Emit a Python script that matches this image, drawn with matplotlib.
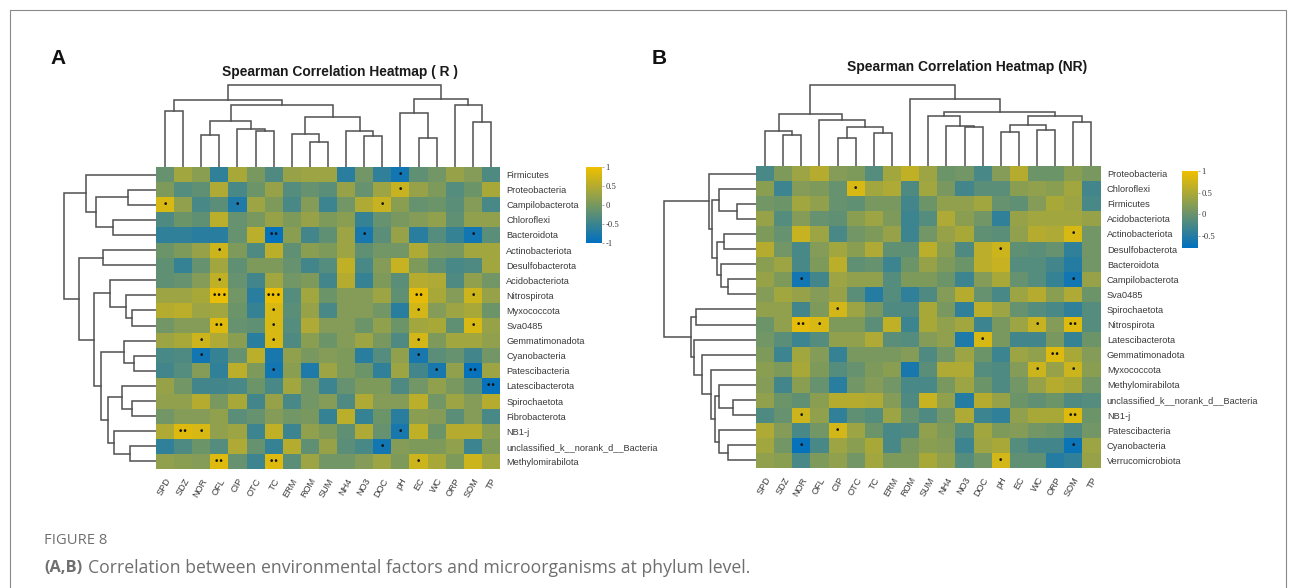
"""Two clustered Spearman heatmaps (R and NR) with dendrograms and a caption."""

import matplotlib
matplotlib.use("Agg")
import matplotlib.pyplot as plt
import numpy as np
from matplotlib.colors import LinearSegmentedColormap
from matplotlib.transforms import ScaledTranslation

factors_a = ["SPD", "SDZ", "NOR", "OFL", "CIP", "OTC", "TC", "ERM", "ROM", "SUM",
             "NH4", "NO3", "DOC", "pH", "EC", "WC", "ORP", "SOM", "TP"]
factors_b = list(factors_a)

taxa_a = ["Firmicutes", "Proteobacteria", "Campilobacterota", "Chloroflexi",
          "Bacteroidota", "Actinobacteriota", "Desulfobacterota", "Acidobacteriota",
          "Nitrospirota", "Myxococcota", "Sva0485", "Gemmatimonadota", "Cyanobacteria",
          "Patescibacteria", "Latescibacterota", "Spirochaetota", "Fibrobacterota",
          "NB1-j", "unclassified_k__norank_d__Bacteria", "Methylomirabilota"]
taxa_b = ["Proteobacteria", "Chloroflexi", "Firmicutes", "Acidobacteriota",
          "Actinobacteriota", "Desulfobacterota", "Bacteroidota", "Campilobacterota",
          "Sva0485", "Spirochaetota", "Nitrospirota", "Latescibacterota",
          "Gemmatimonadota", "Myxococcota", "Methylomirabilota",
          "unclassified_k__norank_d__Bacteria", "NB1-j", "Patescibacteria",
          "Cyanobacteria", "Verrucomicrobiota"]

values_a = [
    [-0.15, 0.35, 0.15, -0.60, 0.40, 0.00, -0.35, 0.25, 0.30, 0.30, -0.65, -0.05, -0.60, -0.85, -0.20, -0.05, 0.25, 0.10, -0.35],
    [0.05, -0.30, -0.20, 0.45, -0.40, -0.10, 0.25, -0.30, -0.15, -0.25, 0.25, -0.15, 0.30, 0.65, 0.25, 0.05, -0.30, -0.10, 0.40],
    [0.80, 0.20, -0.40, -0.25, -0.75, 0.30, 0.05, -0.40, 0.10, -0.50, -0.05, 0.45, 0.65, 0.15, -0.15, -0.10, -0.25, 0.10, -0.40],
    [-0.35, -0.10, -0.20, 0.55, -0.15, 0.00, 0.25, 0.05, 0.25, 0.05, 0.15, -0.55, -0.15, 0.00, 0.10, 0.20, -0.20, 0.20, 0.20],
    [-0.60, -0.60, -0.65, -0.65, -0.15, 0.55, -0.95, 0.15, -0.45, -0.20, 0.30, -0.80, -0.25, 0.25, -0.65, -0.30, -0.55, -0.85, -0.25],
    [-0.10, 0.05, 0.25, 0.70, 0.05, -0.35, 0.55, -0.20, 0.15, 0.05, 0.30, -0.20, -0.05, -0.05, 0.45, 0.05, 0.00, 0.35, 0.35],
    [-0.20, -0.55, -0.15, 0.35, -0.20, 0.05, 0.05, -0.15, -0.45, -0.30, 0.60, -0.40, 0.10, 0.65, 0.05, -0.20, -0.40, -0.35, 0.35],
    [-0.20, -0.15, 0.10, 0.60, -0.15, -0.45, 0.35, -0.05, 0.05, -0.45, 0.50, -0.55, 0.05, -0.25, 0.50, 0.45, -0.35, 0.20, -0.05],
    [0.30, 0.30, 0.40, 0.95, -0.05, -0.65, 0.95, -0.30, 0.35, -0.10, 0.10, 0.10, 0.30, -0.20, 0.90, 0.40, 0.10, 0.70, 0.25],
    [0.50, 0.55, 0.30, 0.35, -0.10, -0.55, 0.80, -0.25, 0.25, -0.40, 0.10, 0.10, -0.05, -0.65, 0.75, 0.10, 0.30, 0.40, -0.10],
    [-0.05, 0.10, 0.10, 0.85, -0.15, -0.20, 0.80, -0.30, 0.45, 0.10, 0.10, -0.10, 0.20, -0.10, 0.35, 0.40, -0.20, 0.80, 0.25],
    [0.30, 0.40, 0.70, 0.45, 0.15, -0.65, 0.80, -0.35, 0.15, -0.10, 0.10, 0.30, 0.00, -0.35, 0.75, 0.05, 0.35, 0.35, 0.20],
    [-0.40, -0.35, -0.85, -0.55, -0.15, 0.55, -0.80, 0.20, 0.00, 0.10, 0.05, -0.65, -0.30, 0.20, -0.80, -0.25, -0.15, -0.45, -0.05],
    [-0.45, -0.30, 0.10, -0.60, 0.55, 0.05, -0.85, 0.15, -0.75, 0.30, 0.05, -0.10, -0.60, 0.30, -0.45, -0.80, 0.20, -0.95, 0.30],
    [0.25, -0.05, -0.45, -0.45, -0.40, -0.10, -0.40, 0.35, -0.05, -0.50, -0.15, 0.05, 0.05, -0.35, -0.05, 0.20, 0.00, -0.25, -0.95],
    [0.20, 0.20, 0.50, 0.00, 0.40, -0.45, 0.25, -0.40, -0.05, 0.10, -0.35, 0.45, 0.10, 0.10, 0.55, -0.05, 0.30, 0.10, 0.50],
    [-0.05, 0.10, 0.10, 0.20, -0.25, -0.15, 0.10, -0.05, 0.00, -0.55, 0.55, -0.55, -0.10, -0.65, 0.15, 0.10, -0.25, 0.10, -0.40],
    [0.45, 0.85, 0.80, 0.20, 0.30, -0.50, 0.60, -0.50, 0.20, 0.05, -0.20, 0.45, -0.15, -0.80, 0.60, -0.10, 0.50, 0.50, 0.15],
    [-0.60, -0.35, -0.10, -0.30, 0.45, -0.15, -0.55, 0.50, -0.20, 0.25, -0.25, -0.40, -0.85, 0.10, 0.05, 0.05, 0.20, -0.50, 0.05],
    [0.20, 0.15, 0.10, 0.85, -0.15, -0.50, 0.85, -0.25, 0.30, -0.05, -0.05, 0.10, 0.30, 0.05, 0.70, 0.40, 0.05, 0.70, 0.35],
]
values_b = [
    [-0.40, 0.05, 0.30, 0.50, 0.10, 0.05, -0.30, 0.35, 0.60, 0.30, -0.10, -0.05, -0.40, 0.10, 0.50, -0.10, -0.10, 0.15, 0.00],
    [0.15, -0.50, 0.10, 0.05, -0.15, 0.80, 0.35, 0.45, -0.35, 0.35, 0.00, -0.45, -0.25, -0.25, 0.15, 0.20, 0.15, 0.35, -0.45],
    [-0.05, -0.10, 0.35, 0.20, -0.15, -0.20, 0.00, 0.00, -0.45, -0.10, 0.20, 0.20, 0.35, -0.15, -0.20, 0.10, 0.40, 0.30, -0.40],
    [0.25, -0.30, 0.10, -0.15, -0.20, 0.15, 0.30, 0.05, -0.50, -0.30, 0.45, 0.15, -0.05, -0.60, 0.25, 0.35, 0.35, 0.35, 0.25],
    [0.05, -0.15, 0.65, 0.30, -0.40, -0.05, 0.05, 0.25, -0.50, -0.05, 0.25, 0.40, -0.20, -0.25, 0.20, 0.50, 0.45, 0.80, -0.05],
    [0.50, -0.05, -0.40, 0.10, 0.35, 0.15, 0.45, -0.20, -0.20, 0.55, 0.15, -0.35, 0.55, 0.70, -0.20, -0.25, -0.15, -0.60, -0.05],
    [0.15, 0.30, -0.40, 0.05, 0.55, -0.20, -0.15, -0.50, -0.10, 0.25, 0.05, -0.10, 0.55, 0.65, -0.30, -0.30, -0.45, -0.70, -0.05],
    [0.25, 0.05, -0.85, -0.45, 0.30, 0.20, 0.20, -0.30, 0.05, 0.05, -0.10, -0.50, 0.10, 0.40, -0.15, -0.30, -0.55, -0.85, 0.25],
    [0.10, 0.35, 0.25, 0.10, 0.25, -0.25, -0.70, -0.30, -0.60, -0.35, 0.10, 0.50, -0.15, -0.40, 0.30, 0.50, 0.15, 0.45, -0.10],
    [0.20, 0.20, -0.45, 0.05, 0.75, 0.30, 0.00, -0.35, -0.35, 0.40, 0.00, -0.60, 0.55, 0.30, -0.15, -0.30, -0.40, -0.60, -0.30],
    [-0.10, 0.20, 0.90, 0.80, 0.05, 0.05, -0.25, 0.60, -0.50, 0.40, 0.20, 0.35, -0.50, 0.00, 0.30, 0.65, 0.10, 0.85, -0.30],
    [-0.05, -0.25, -0.50, -0.30, 0.20, 0.20, 0.45, -0.25, -0.30, 0.10, 0.20, -0.75, 0.80, 0.00, -0.45, -0.45, 0.00, -0.55, -0.10],
    [0.05, -0.50, 0.35, 0.10, -0.55, 0.00, 0.00, 0.00, 0.10, -0.35, -0.05, 0.30, -0.10, -0.50, 0.30, 0.20, 0.85, 0.40, 0.10],
    [0.15, 0.05, 0.40, 0.05, -0.30, -0.15, 0.05, 0.15, -0.80, -0.25, 0.45, 0.45, -0.30, -0.35, 0.10, 0.70, 0.25, 0.70, 0.15],
    [0.10, -0.45, 0.15, -0.15, -0.65, -0.05, 0.10, -0.05, -0.40, -0.40, 0.00, 0.30, -0.10, -0.35, -0.05, 0.25, 0.50, 0.40, -0.05],
    [0.20, -0.10, -0.20, 0.15, 0.50, 0.50, 0.45, 0.10, -0.35, 0.65, 0.20, -0.70, 0.50, 0.25, -0.10, -0.20, -0.10, -0.35, -0.30],
    [-0.35, -0.15, 0.70, 0.20, -0.60, -0.20, -0.30, 0.30, -0.15, -0.35, -0.05, 0.45, -0.50, -0.60, 0.20, 0.40, 0.40, 0.85, -0.10],
    [0.45, 0.10, -0.40, -0.05, 0.75, 0.30, -0.10, -0.40, -0.35, 0.20, 0.05, -0.30, 0.35, 0.05, 0.10, -0.05, -0.10, -0.35, -0.05],
    [0.35, -0.05, -0.95, -0.40, 0.30, 0.15, 0.40, -0.40, 0.00, 0.15, 0.10, -0.50, 0.30, 0.40, -0.30, -0.45, -0.45, -0.90, 0.30],
    [0.20, 0.15, -0.40, 0.05, 0.20, -0.05, 0.35, 0.05, 0.05, 0.40, 0.20, -0.30, -0.05, 0.75, -0.20, -0.20, -0.70, -0.60, 0.25],
]

# (taxon, factor, number of stars)
sig_a = [("Firmicutes", "pH", 1), ("Proteobacteria", "pH", 1), ("Campilobacterota", "SPD", 1),
         ("Campilobacterota", "CIP", 1), ("Campilobacterota", "DOC", 1), ("Bacteroidota", "TC", 2),
         ("Bacteroidota", "NO3", 1), ("Bacteroidota", "SOM", 1), ("Actinobacteriota", "OFL", 1),
         ("Acidobacteriota", "OFL", 1), ("Nitrospirota", "OFL", 3), ("Nitrospirota", "TC", 3),
         ("Nitrospirota", "EC", 2), ("Nitrospirota", "SOM", 1), ("Myxococcota", "TC", 1),
         ("Myxococcota", "EC", 1), ("Sva0485", "OFL", 2), ("Sva0485", "TC", 1), ("Sva0485", "SOM", 1),
         ("Gemmatimonadota", "NOR", 1), ("Gemmatimonadota", "TC", 1), ("Gemmatimonadota", "EC", 1),
         ("Cyanobacteria", "NOR", 1), ("Cyanobacteria", "EC", 1), ("Patescibacteria", "TC", 1),
         ("Patescibacteria", "WC", 1), ("Patescibacteria", "SOM", 2), ("Latescibacterota", "TP", 2),
         ("NB1-j", "SDZ", 2), ("NB1-j", "NOR", 1), ("NB1-j", "pH", 1),
         ("unclassified_k__norank_d__Bacteria", "DOC", 1), ("Methylomirabilota", "OFL", 2),
         ("Methylomirabilota", "TC", 2), ("Methylomirabilota", "EC", 1)]
sig_b = [("Chloroflexi", "OTC", 1), ("Actinobacteriota", "SOM", 1), ("Desulfobacterota", "pH", 1),
         ("Campilobacterota", "NOR", 1), ("Campilobacterota", "SOM", 1), ("Spirochaetota", "CIP", 1),
         ("Nitrospirota", "NOR", 2), ("Nitrospirota", "OFL", 1), ("Nitrospirota", "WC", 1),
         ("Nitrospirota", "SOM", 2), ("Latescibacterota", "DOC", 1), ("Gemmatimonadota", "ORP", 2),
         ("Myxococcota", "WC", 1), ("Myxococcota", "SOM", 1), ("NB1-j", "NOR", 1), ("NB1-j", "SOM", 2),
         ("Patescibacteria", "CIP", 1), ("Cyanobacteria", "NOR", 1), ("Cyanobacteria", "SOM", 1),
         ("Verrucomicrobiota", "pH", 1)]

# dendrograms as nested (height, left, right), an int is a leaf position
col_tree_a = (82, (67, (56, 0, 1),
                   (62, (46, (32, 2, 3), (38, 4, (36, 5, 6))),
                    (50, (33, 7, (25, 8, 9)), (36, 10, (31, 11, 12))))),
              (68, (54, 13, (29, 14, 15)), (62, 16, (45, 17, 18))))
row_tree_a = (92, (70, 0, (60, (28, 1, 2), (43, 3, 4))),
              (77, (53, 5, 6),
               (62, (46, 7, (30, 8, (24, 9, 10))),
                (55, (32, 11, (22, 12, 13)),
                 (48, (34, 14, (24, 15, 16)), (42, 17, (26, 18, 19)))))))
col_tree_b = (81, (52, (35, 0, (31, 1, 2)), (46, 3, (39, (28, 4, 5), (33, 6, 7)))),
              (67, 8, (54, (50, 9, (40, 10, (39, 11, 12))),
                       (50, (41, (34, 13, 14), (36, 15, 16)), (44, 17, 18)))))
row_tree_b = (92, (47, 0, (44, (37, 1, (19, 2, 3)),
                           (39, (32, 4, 5), (35, 6, (28, 7, 8))))),
              (65, (60, 9, 10),
               (62, 11, (54, 12, (45, 13, (41, (37, 14, (23, 15, 16)),
                                           (37, 17, (28, 18, 19))))))))

ticks_a = [1, 0.5, 0, -0.5, -1]
ticks_b = [1, 0.5, 0, -0.5]

W, H = 1295, 588
cmap = LinearSegmentedColormap.from_list("bluegold", ["#0070c0", "#f0c000"])
LABEL = "#3a3a3a"
SANS = "Liberation Sans"
CAPTION = "#6f6f6f"


def px_axes(fig, left, top, right, bottom):
    """Axes placed by pixel box, y counted from the top of the image."""
    return fig.add_axes([left / W, 1 - bottom / H, (right - left) / W, (bottom - top) / H])


def draw_tree(ax, node, vertical):
    """Draw one dendrogram node, returns (leaf position, height)."""
    if isinstance(node, int):
        return node + 0.5, 0
    height, left, right = node
    p0, h0 = draw_tree(ax, left, vertical)
    p1, h1 = draw_tree(ax, right, vertical)
    pos = [p0, p0, p1, p1]
    hts = [h0, height, height, h1]
    if vertical:
        ax.plot(pos, hts, color="#505050", lw=1.1, solid_joinstyle="miter")
    else:
        ax.plot(hts, pos, color="#505050", lw=1.1, solid_joinstyle="miter")
    return (p0 + p1) / 2, height


def panel(fig, box, factors, taxa, values, sig, col_tree, row_tree, cbar_box, cbar_low, ticks):
    left, top, right, bottom = box
    data = np.array(values)
    ax = px_axes(fig, left, top, right, bottom)
    ax.pcolormesh(data, cmap=cmap, vmin=-1, vmax=1, edgecolors="none")
    ax.set_xlim(0, len(factors))
    ax.set_ylim(len(taxa), 0)
    for side in ax.spines.values():
        side.set_visible(False)
    ax.set_xticks(np.arange(len(factors)) + 0.5)
    ax.set_xticklabels(factors, rotation=60, ha="right", va="top", rotation_mode="anchor",
                       fontsize=6.6, family=SANS, color=LABEL)
    # labels sit a little left of their column in the original
    nudge = ScaledTranslation(-5 / 100, 0, fig.dpi_scale_trans)
    for lab in ax.get_xticklabels():
        lab.set_transform(lab.get_transform() + nudge)
    ax.yaxis.tick_right()
    ax.set_yticks(np.arange(len(taxa)) + 0.5)
    ax.set_yticklabels(taxa, fontsize=6.7, family=SANS, color=LABEL)
    ax.tick_params(axis="x", length=0, pad=5.5)
    ax.tick_params(axis="y", length=0, pad=4.5)

    for taxon, factor, n in sig:
        ax.text(factors.index(factor) + 0.5, taxa.index(taxon) + 0.5, "\u2022" * n,
                ha="center", va="center", fontsize=6.5, color="#111111", family="DejaVu Sans")

    top_ax = px_axes(fig, left, top - 90, right, top)
    draw_tree(top_ax, col_tree, True)
    top_ax.set_xlim(0, len(factors))
    top_ax.set_ylim(0, 90)
    top_ax.axis("off")

    side_ax = px_axes(fig, left - 100, top, left, bottom)
    draw_tree(side_ax, row_tree, False)
    side_ax.set_xlim(100, 0)
    side_ax.set_ylim(len(taxa), 0)
    side_ax.axis("off")

    cax = px_axes(fig, *cbar_box)
    grad = np.linspace(1, cbar_low, 200).reshape(-1, 1)
    cax.imshow(grad, cmap=cmap, vmin=cbar_low, vmax=1, aspect="auto",
               extent=[0, 1, cbar_low, 1])
    cax.set_xticks([])
    cax.yaxis.tick_right()
    cax.set_yticks(ticks)
    cax.set_yticklabels([f"{t:g}" for t in ticks], fontsize=6.2, family="Liberation Serif",
                        color=LABEL)
    cax.tick_params(axis="y", length=1.5, width=0.5, pad=1, color="#888888")
    for side in cax.spines.values():
        side.set_visible(False)


def main():
    fig = plt.figure(figsize=(W / 100, H / 100), dpi=100, facecolor="white")

    panel(fig, (156, 167, 500, 469), factors_a, taxa_a, values_a, sig_a,
          col_tree_a, row_tree_a, (586, 167, 602, 243), -1, ticks_a)
    panel(fig, (756, 166, 1100.5, 468), factors_b, taxa_b, values_b, sig_b,
          col_tree_b, row_tree_b, (1182, 171, 1198, 248), -0.78, ticks_b)

    # page level layer in pixel coordinates: frame, letters, titles, caption
    page = fig.add_axes([0, 0, 1, 1], zorder=-1)
    page.set_xlim(0, W)
    page.set_ylim(H, 0)
    page.axis("off")
    page.plot([9.5, 9.5, 1285.5, 1285.5], [H, 9.5, 9.5, H], color="#8a8a8a", lw=0.8)

    page.text(50, 59, "A", fontsize=15, fontweight="bold", family=SANS, va="center", color="#111111")
    page.text(652, 59, "B", fontsize=15, fontweight="bold", family=SANS, va="center", color="#111111")
    page.text(339.5, 72, "Spearman Correlation Heatmap ( R )", fontsize=9.9, fontweight="bold",
              family=SANS, ha="center", va="center", color="#1a1a1a")
    page.text(967.5, 67, "Spearman Correlation Heatmap (NR)", fontsize=10, fontweight="bold",
              family=SANS, ha="center", va="center", color="#1a1a1a")

    page.text(44, 540, "FIGURE 8", fontsize=10.6, family="Open Sans", va="center", color=CAPTION)
    page.text(44, 568, "(A,B)", fontsize=11.8, fontweight="bold", family="Open Sans", va="center",
              color=CAPTION)
    page.text(88, 568, "Correlation between environmental factors and microorganisms at phylum level.",
              fontsize=12.7, family="Open Sans", va="center", color=CAPTION)

    fig.savefig("out.png", dpi=100)
    plt.close(fig)


if __name__ == "__main__":
    main()
